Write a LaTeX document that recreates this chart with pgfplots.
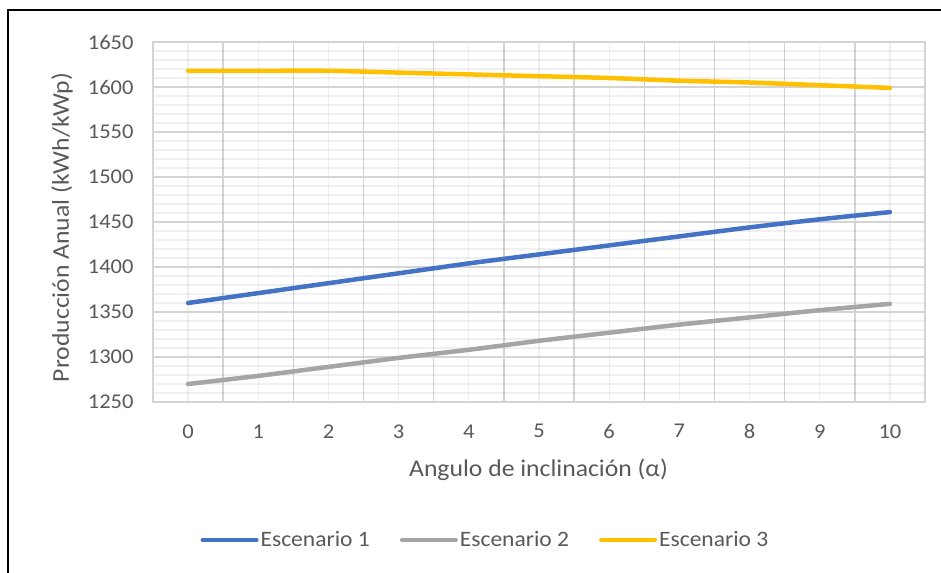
\documentclass[border=0pt]{standalone}
\usepackage{fontspec}
\setmainfont{Carlito}[FakeStretch=1.07]
\usepackage{pgfplots}
\pgfplotsset{compat=1.18}
\definecolor{esc1}{HTML}{4472C4}
\definecolor{esc2}{HTML}{A5A5A5}
\definecolor{esc3}{HTML}{FFC000}
\definecolor{gmaj}{HTML}{D4D4D4}
\definecolor{gmin}{HTML}{F0F0F0}
\definecolor{txt}{HTML}{595959}

\begin{document}
\begin{tikzpicture}[font=\fontsize{21bp}{25bp}\selectfont]
\useasboundingbox (0bp,0bp) rectangle (941bp,573bp);
% chart frame
\draw[line width=2bp, black] (8bp,-5bp) -- (8bp,563bp) -- (950bp,563bp);
\begin{axis}[
  at={(153bp,171bp)}, anchor=south west,
  scale only axis, width=772bp, height=360bp,
  xmin=-0.5, xmax=10.5, ymin=1250, ymax=1650,
  % category boundaries carry the darker grid lines
  xtick={-0.5,0.5,1.5,2.5,3.5,4.5,5.5,6.5,7.5,8.5,9.5,10.5},
  xticklabels={},
  % light lines through the categories
  minor xtick={0,1,2,3,4,5,6,7,8,9,10},
  extra x ticks={0,1,2,3,4,5,6,7,8,9,10},
  extra x tick labels={0,1,2,3,4,5,6,7,8,9,10},
  extra x tick style={grid=none},
  ytick={1250,1300,1350,1400,1450,1500,1550,1600,1650},
  minor y tick num=4,
  grid=both,
  major grid style={gmaj, line width=1.5bp},
  minor grid style={gmin, line width=1.3bp, blend mode=multiply},
  axis line style={gmaj, line width=1.5bp},
  major tick length=0pt, minor tick length=0pt,
  /pgf/number format/assume math mode=true,
  /pgf/number format/1000 sep={},
  tick label style={text=txt},
  yticklabel style={anchor=east, xshift=-16bp},
  xticklabel style={anchor=north, yshift=-19bp},
  xlabel={Angulo de inclinación (α)},
  ylabel={Producción Anual (kWh/kWp)},
  label style={text=txt, font=\fontsize{24bp}{28bp}\selectfont},
  xlabel style={at={(axis description cs:0.4994,-0.189)}, anchor=center},
  ylabel style={at={(axis description cs:-0.118,0.485)}, anchor=center},
  legend columns=3,
  legend style={draw=none, fill=none, text=txt,
    font=\fontsize{22bp}{26bp}\selectfont,
    at={(axis description cs:0.4307,-0.383)}, anchor=center,
    /tikz/every even column/.append style={column sep=28bp}},
  legend image code/.code={\draw[#1, line width=4bp] (0bp,0bp) -- (54bp,0bp);},
  every axis plot/.append style={line width=4.5bp, line cap=round, line join=round, smooth, tension=0.4},
]
\addplot[esc1] coordinates {
  (0,1360) (1,1371) (2,1382) (3,1393) (4,1404) (5,1414)
  (6,1424) (7,1434) (8,1444) (9,1453) (10,1461)};
\addlegendentry{Escenario 1}
\addplot[esc2] coordinates {
  (0,1270) (1,1279) (2,1289) (3,1299) (4,1308) (5,1318)
  (6,1327) (7,1336) (8,1344) (9,1352) (10,1359)};
\addlegendentry{Escenario 2}
\addplot[esc3] coordinates {
  (0,1618) (1,1618) (2,1618) (3,1616) (4,1614) (5,1612)
  (6,1610) (7,1607) (8,1605) (9,1602) (10,1599)};
\addlegendentry{Escenario 3}
\end{axis}
\end{tikzpicture}
\end{document}
